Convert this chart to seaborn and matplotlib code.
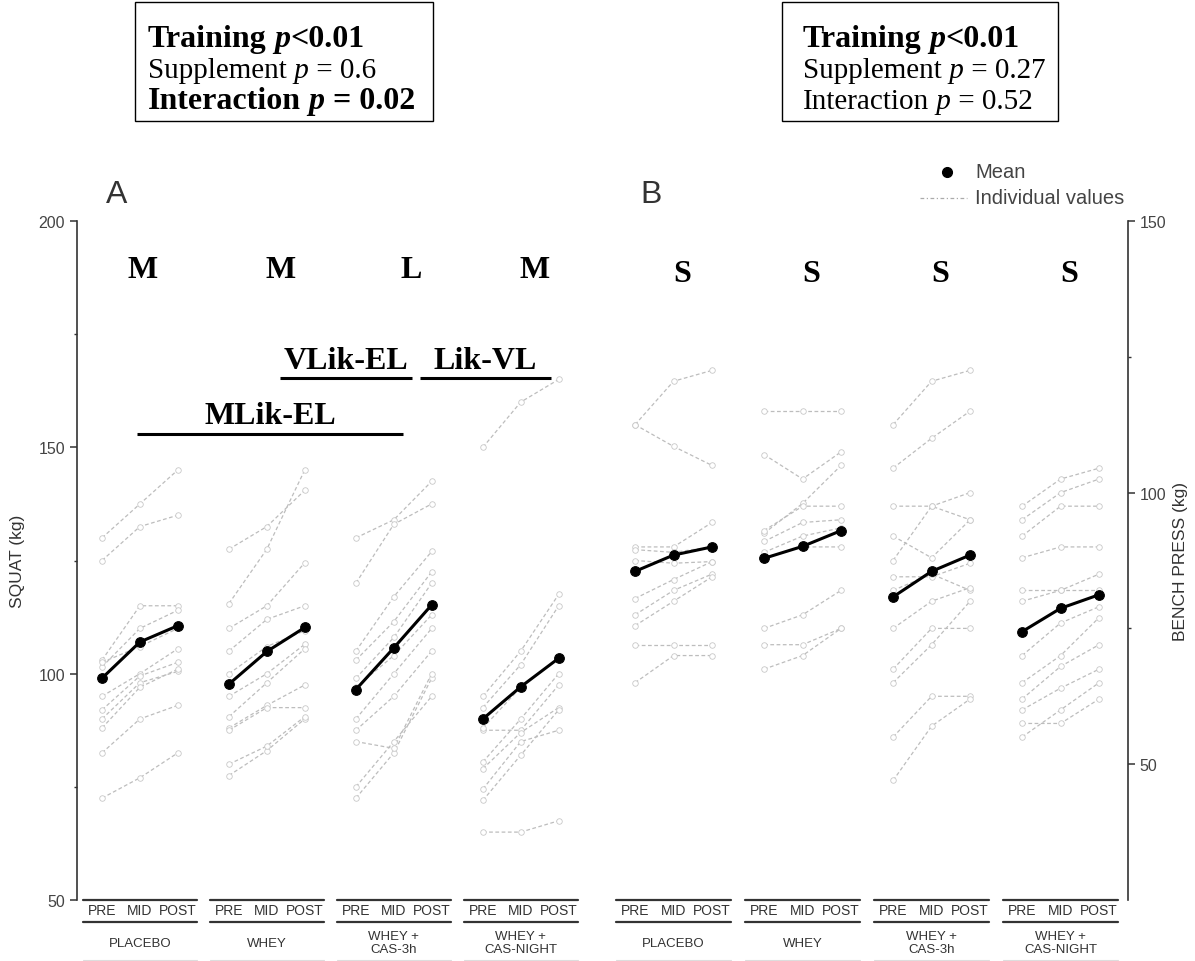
import matplotlib
matplotlib.use("Agg")
import numpy as np
import pandas as pd
import matplotlib.pyplot as plt
import seaborn as sns
from matplotlib.lines import Line2D
from matplotlib.patches import Rectangle

W, H = 1195, 962
STEP = 3.35

GROUPS = ["PLACEBO", "WHEY", "WHEY +\nCAS-3h", "WHEY +\nCAS-NIGHT"]
TIMES = ["PRE", "MID", "POST"]

# ── squat (kg) ─────────────────────────────────────────
sq_placebo = [[130, 137.5, 145], [125, 132.5, 135], [103, 115, 115], [101.5, 110, 114],
              [102.5, 106, 110], [95, 100, 105.5], [92, 99.5, 102.5], [90, 98, 100.5],
              [88, 97, 101], [82.5, 90, 93], [72.5, 77, 82.5]]
sq_whey = [[127.5, 132.5, 140.5], [115.5, 127.5, 145], [110, 115, 124.5], [105, 112, 115],
           [100, 106, 109.5], [95, 100, 106.5], [90.5, 98, 105.5], [88, 93, 97.5],
           [87.5, 92.5, 92.5], [80, 84, 90.5], [77.5, 83, 90]]
sq_cas3h = [[130, 134, 142.5], [120, 133, 137.5], [105, 117, 127], [103, 111.5, 122.5],
            [99, 108, 120], [97, 104, 113], [90, 100, 110], [87.5, 95, 105],
            [85, 83.5, 100], [75, 85, 95], [72.5, 82.5, 99]]
sq_casnight = [[150, 160, 165], [95, 105, 117.5], [92.5, 102, 115], [87.5, 87.5, 97.5],
               [88, 97, 103.5], [80.5, 90, 100], [79, 87, 92.5], [74.5, 85, 87.5],
               [72, 82, 92], [65, 65, 67.5]]
sq_mean = [[99.0, 107.0, 110.6], [97.7, 104.9, 110.2], [96.5, 105.7, 115.2], [90.0, 97.1, 103.4]]

# ── bench press (kg) ───────────────────────────────────
bp_placebo = [[112.5, 120.5, 122.5], [112.5, 108.5, 105], [90, 90, 94.5], [89.5, 89, 90],
              [87.5, 87, 87.3], [80.5, 84, 87.3], [77.5, 82, 85], [75.5, 80, 84.5],
              [72, 72, 72], [65, 70, 70]]
bp_whey = [[115, 115, 115], [107, 102.5, 107.5], [92.5, 98, 105], [93, 97.5, 97.5],
           [91, 94.5, 95], [89, 92, 93.5], [88, 90, 90], [75, 77.5, 82],
           [72, 72, 75], [67.5, 70, 75]]
bp_cas3h = [[112.5, 120.5, 122.5], [104.5, 110, 115], [97.5, 97.5, 100], [92, 88, 95],
            [87.5, 97.5, 95], [84.5, 84.5, 87], [82, 85, 82], [75, 80, 82.5],
            [67.5, 75, 75], [65, 72, 80], [55, 62.5, 62.5], [47, 57, 62]]
bp_casnight = [[97.5, 102.5, 104.5], [95, 100, 102.5], [92, 97.5, 97.5], [88, 90, 90],
               [82, 82, 82], [80, 82, 85], [70, 76, 79], [65, 70, 77],
               [62, 68, 72], [60, 64, 67.5], [57.5, 57.5, 62], [55, 60, 65]]
bp_mean = [[85.5, 88.5, 90.0], [87.9, 90.1, 93.0], [80.8, 85.5, 88.5], [74.4, 78.7, 81.2]]

letters_A = ["M", "M", "L", "M"]
letters_B = ["S", "S", "S", "S"]

IND = "#bdbdbd"
DARK = "#333333"

sns.set_theme(style="white")
plt.rcParams["font.family"] = ["Liberation Sans", "DejaVu Sans"]


def xpos(g, t):
    return g * STEP + t


def long_form(groups):
    rows = []
    for g, subjects in enumerate(groups):
        for s, vals in enumerate(subjects):
            for t, v in enumerate(vals):
                rows.append({"unit": f"{g}-{s}", "x": xpos(g, t), "value": v})
    return pd.DataFrame(rows)


def fx(px):
    return px / W


def fy(py):
    return 1 - py / H


fig = plt.figure(figsize=(W / 100, H / 100), dpi=100)
fig.patch.set_facecolor("white")
axA = fig.add_axes([fx(77), fy(901), (592 - 77) / W, (901 - 222) / H])
axB = fig.add_axes([fx(600), fy(901), (1128 - 600) / W, (901 - 222) / H])


def draw_panel(ax, indiv, means, ylim, yt, ytm, ylabel, side):
    ind = long_form(indiv)
    mn = long_form([[m] for m in means])
    sns.lineplot(data=ind, x="x", y="value", units="unit", estimator=None, sort=False,
                 ax=ax, color=IND, lw=0.9, linestyle=(0, (3, 2)), marker="o",
                 markersize=4, markerfacecolor="white", markeredgecolor="#c8c8c8",
                 markeredgewidth=0.6, legend=False)
    sns.lineplot(data=mn, x="x", y="value", units="unit", estimator=None, sort=False,
                 ax=ax, color="black", lw=2.2, marker="o", markersize=7,
                 markeredgecolor="black", legend=False, zorder=5)
    ax.set_ylim(*ylim)
    ax.set_facecolor("none")
    for s in ["top", "bottom", "left", "right"]:
        ax.spines[s].set_visible(False)
    ax.spines[side].set_visible(True)
    ax.spines[side].set_color(DARK)
    ax.spines[side].set_linewidth(1.2)
    ax.set_yticks(yt)
    ax.set_yticks(ytm, minor=True)
    ax.tick_params(axis="y", which="major", length=5, width=1.1, color=DARK,
                   labelsize=11.5, labelcolor="#444444", direction="out", left=(side == "left"),
                   right=(side == "right"), labelleft=(side == "left"), labelright=(side == "right"))
    ax.tick_params(axis="y", which="minor", length=2.5, width=1.0, color=DARK,
                   left=(side == "left"), right=(side == "right"))
    xt = [xpos(g, t) for g in range(4) for t in range(3)]
    ax.set_xticks(xt)
    ax.set_xticklabels(TIMES * 4)
    ax.tick_params(axis="x", length=0, pad=2.5, labelsize=10, labelcolor=DARK)
    ax.set_xlabel("")
    ax.set_ylabel(ylabel, fontsize=12.5, color="#333333")
    if side == "right":
        ax.yaxis.set_label_position("right")
        ax.yaxis.set_label_coords(1.085, 0.5)
    else:
        ax.yaxis.set_label_coords(-0.10, 0.5)
    tr = ax.get_xaxis_transform()
    for g, name in enumerate(GROUPS):
        x0, x1 = xpos(g, 0) - 0.5, xpos(g, 2) + 0.5
        ax.plot([x0, x1], [0, 0], transform=tr, clip_on=False, color=DARK, lw=1.6)
        ax.plot([x0, x1], [-0.032, -0.032], transform=tr, clip_on=False, color=DARK, lw=1.6)
        ax.plot([x0, x1], [-0.088, -0.088], transform=tr, clip_on=False, color="#dddddd", lw=0.8)
        ax.text(xpos(g, 1), -0.063, name, transform=tr, ha="center", va="center",
                fontsize=9.5, color=DARK, linespacing=1.15)


draw_panel(axA, [sq_placebo, sq_whey, sq_cas3h, sq_casnight], sq_mean, (50, 200),
           [50, 100, 150, 200], [75, 125, 175], "SQUAT (kg)", "left")
draw_panel(axB, [bp_placebo, bp_whey, bp_cas3h, bp_casnight], bp_mean, (25, 150),
           [50, 100, 150], [75, 125], "BENCH PRESS (kg)", "right")
axA.set_xlim(-0.66, 12.93)
axB.set_xlim(-0.91, 12.8)

SERIF = ["Liberation Serif", "DejaVu Serif"]
offs_A = [0.07, 0.36, 0.46, 0.36]
for g, s in enumerate(letters_A):
    axA.text(xpos(g, 1) + offs_A[g], 187.6, s, ha="center", va="baseline", fontsize=23,
             fontweight="bold", family=SERIF, color="black")
for g, s in enumerate(letters_B):
    axB.text(xpos(g, 1) + 0.22, 139.0, s, ha="center", va="baseline", fontsize=23,
             fontweight="bold", family=SERIF, color="black")

# pairwise brackets in panel A: (x start, x end, y line, label, y text)
brackets = [(4.70, 8.18, 165.3, "VLik-EL", 167.5),
            (8.39, 11.85, 165.3, "Lik-VL", 167.5),
            (0.92, 7.94, 152.9, "MLik-EL", 155.4)]
for x0, x1, yl, lab, yt in brackets:
    axA.plot([x0, x1], [yl, yl], color="black", lw=2.2, solid_capstyle="butt")
    axA.text((x0 + x1) / 2, yt, lab, ha="center", va="baseline", fontsize=23,
             fontweight="bold", family=SERIF, color="black")

# panel letters
fig.text(fx(106), fy(203), "A", fontsize=23, color=DARK, va="baseline", ha="left")
fig.text(fx(640), fy(203), "B", fontsize=23, color=DARK, va="baseline", ha="left")

# legend
fig.add_artist(Line2D([fx(947)], [fy(173)], marker="o", color="black", markersize=7,
                      transform=fig.transFigure))
fig.add_artist(Line2D([fx(920), fx(967)], [fy(199), fy(199)], color="#aaaaaa", lw=0.9,
                      linestyle=(0, (3, 2, 1, 2)), transform=fig.transFigure))
fig.text(fx(975), fy(173), "Mean", fontsize=14.5, color="#444444", va="center")
fig.text(fx(975), fy(199), "Individual values", fontsize=14.5, color="#444444", va="center")

# statistics boxes
renderer = fig.canvas.get_renderer()


def rich(x_px, y_px, parts):
    x = x_px
    for s, bold, ital in parts:
        t = fig.text(fx(x), fy(y_px), s, fontsize=23 if bold else 21, family=SERIF,
                     fontweight="bold" if bold else "normal",
                     fontstyle="italic" if ital else "normal",
                     va="baseline", ha="left", color="black")
        x += t.get_window_extent(renderer).width


for (bx0, bx1, pad), lines in [
    ((135, 433, 13), [[("Training", 1, 0), (" p", 1, 1), ("<0.01", 1, 0)],
                      [("Supplement", 0, 0), (" p", 0, 1), (" = 0.6", 0, 0)],
                      [("Interaction", 1, 0), (" p", 1, 1), (" = 0.02", 1, 0)]]),
    ((782, 1058, 21), [[("Training", 1, 0), (" p", 1, 1), ("<0.01", 1, 0)],
                       [("Supplement", 0, 0), (" p", 0, 1), (" = 0.27", 0, 0)],
                       [("Interaction", 0, 0), (" p", 0, 1), (" = 0.52", 0, 0)]]),
]:
    fig.add_artist(Rectangle((fx(bx0), fy(122)), (bx1 - bx0) / W, 119 / H, fill=False,
                             edgecolor="black", lw=1.0, transform=fig.transFigure))
    for i, parts in enumerate(lines):
        rich(bx0 + pad, 47 + i * 31, parts)

fig.savefig("out.png", dpi=100, facecolor="white")
